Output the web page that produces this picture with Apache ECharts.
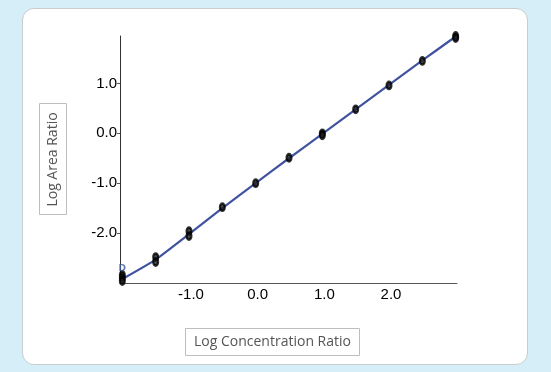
<!DOCTYPE html>
<html>
<head>
<meta charset="utf-8">
<script src="https://cdn.jsdelivr.net/npm/echarts@6/dist/echarts.min.js"></script>
<style>
  html, body { margin: 0; padding: 0; background: #d6eef8; }
  #panel { position: absolute; left: 22px; top: 8px; width: 506px; height: 357px; background: #fff; border: 1px solid #c9ccce; border-radius: 12px; box-sizing: border-box; }
  #chart { position: absolute; left: 0; top: 0; width: 551px; height: 372px; }
</style>
</head>
<body>
<div id="panel"></div>
<div id="chart"></div>
<script>
// Observed points (log concentration ratio, log area ratio)
const pointX = [-2, -2, -2, -1.5, -1.5, -1, -1, -0.5, 0, 0.5, 1, 1, 1.5, 2, 2.5, 3, 3];
const pointY = [-2.84, -2.9, -2.96, -2.48, -2.58, -1.96, -2.06, -1.48, -1.0, -0.49, 0.0, -0.04, 0.48, 0.96, 1.45, 1.95, 1.91];
// Outlier flagged "D"
const flagX = [-2];
const flagY = [-2.68];
// Fitted curve
const fitX = [-2, -1.5, -1, -0.5, 0, 0.5, 1, 1.5, 2, 2.5, 3];
const fitY = [-2.92, -2.53, -2.02, -1.5, -1.0, -0.5, -0.01, 0.48, 0.97, 1.46, 1.94];
const xTicks = [-1, 0, 1, 2];
const yTicks = [-2, -1, 0, 1];
const xTitle = 'Log Concentration Ratio';
const yTitle = 'Log Area Ratio';

const chart = echarts.init(document.getElementById('chart'), null, { renderer: 'canvas' });
const fmt = v => v.toFixed(1);
chart.setOption({
  backgroundColor: 'transparent',
  animation: false,
  grid: { left: 120, top: 36, width: 337, bottom: 89, containLabel: false },
  xAxis: {
    type: 'value', min: -2.035, max: 3.02,
    axisLine: { show: true, onZero: false, lineStyle: { color: '#555', width: 1 } },
    axisTick: { show: false },
    splitLine: { show: false },
    axisLabel: { customValues: xTicks, formatter: fmt, color: '#000', fontSize: 15, fontFamily: 'Liberation Sans, Arial, sans-serif', margin: 4, padding: [0, 0, 0, 4] }
  },
  yAxis: {
    type: 'value', min: -3, max: 1.95,
    axisLine: { show: true, onZero: false, lineStyle: { color: '#333', width: 1 } },
    axisTick: { show: true, customValues: yTicks, length: 3, lineStyle: { color: '#555' } },
    splitLine: { show: false },
    axisLabel: { customValues: yTicks, formatter: fmt, color: '#000', fontSize: 15, fontFamily: 'Liberation Sans, Arial, sans-serif', margin: 3 }
  },
  series: [
    {
      type: 'line', data: fitX.map((x, i) => [x, fitY[i]]), smooth: 0.15, showSymbol: false,
      lineStyle: { color: '#4053a0', width: 2.2 }, z: 2
    },
    {
      type: 'scatter', data: pointX.map((x, i) => [x, pointY[i]]), symbol: 'circle', symbolSize: [5, 7],
      itemStyle: { color: '#222', borderColor: '#000', borderWidth: 2.4 }, z: 3
    },
    {
      type: 'scatter', data: flagX.map((x, i) => [x, flagY[i]]), symbolSize: 1,
      itemStyle: { color: 'transparent' },
      label: { show: true, formatter: 'D', position: 'inside', offset: [0, 2], color: '#3d5a9e', fontSize: 9, fontWeight: 'bold', fontFamily: 'DejaVu Sans, sans-serif' }, z: 4
    }
  ],
  graphic: [
    {
      type: 'group', left: 39, top: 103,
      children: [
        { type: 'rect', shape: { x: 0, y: 0, width: 27, height: 111 }, style: { fill: '#fff', stroke: '#bdbdbd', lineWidth: 1 } },
        { type: 'text', x: 14, y: 56, rotation: Math.PI / 2, style: { text: yTitle, fill: '#555', font: '14px "Open Sans", sans-serif', textAlign: 'center', textVerticalAlign: 'middle' } }
      ]
    },
    {
      type: 'group', left: 185, top: 328,
      children: [
        { type: 'rect', shape: { x: 0, y: 0, width: 174, height: 27 }, style: { fill: '#fff', stroke: '#bdbdbd', lineWidth: 1 } },
        { type: 'text', x: 87, y: 14, style: { text: xTitle, fill: '#555', font: '14px "Open Sans", sans-serif', textAlign: 'center', textVerticalAlign: 'middle' } }
      ]
    }
  ]
});
</script>
</body>
</html>
